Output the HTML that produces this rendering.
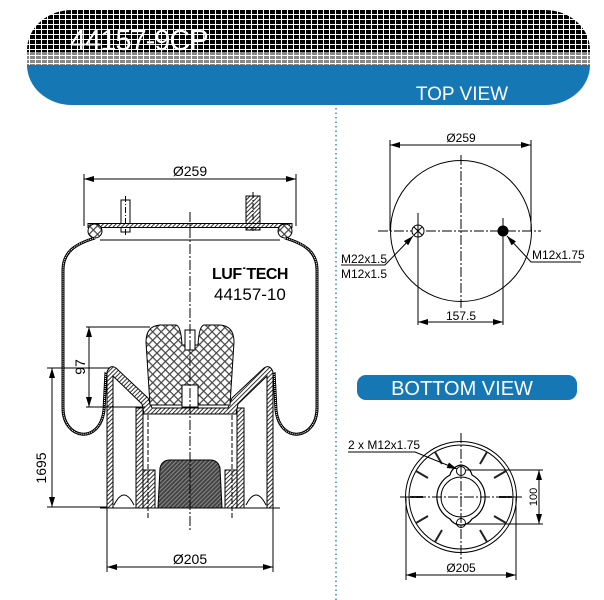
<!DOCTYPE html>
<html><head><meta charset="utf-8"><style>
html,body{margin:0;padding:0;background:#fff;width:604px;height:600px;overflow:hidden}
svg{display:block}
text{font-family:"Liberation Sans",sans-serif}
</style></head><body>
<svg width="604" height="600" viewBox="0 0 604 600" xmlns="http://www.w3.org/2000/svg">
<defs>
<pattern id="grid" width="6" height="5" patternUnits="userSpaceOnUse">
<rect width="6" height="5" fill="#000"/><rect x="5" width="1" height="5" fill="#fff"/><rect y="4" width="6" height="1" fill="#fff"/>
</pattern>
<pattern id="grid2" width="6" height="4" patternUnits="userSpaceOnUse">
<rect width="6" height="4" fill="#888"/><rect x="5" width="1" height="4" fill="#fff"/><rect y="3" width="6" height="1" fill="#fff"/>
</pattern>
<pattern id="hatch" width="3" height="3" patternUnits="userSpaceOnUse" patternTransform="rotate(45)">
<rect width="3" height="3" fill="#fff"/><rect width="1" height="3" fill="#333"/>
</pattern>
<pattern id="cross" width="6" height="6" patternUnits="userSpaceOnUse" patternTransform="rotate(45)">
<rect width="6" height="6" fill="#fff"/><rect width="1.2" height="6" fill="#444"/><rect width="6" height="1.2" fill="#444"/>
</pattern>
<pattern id="dark" width="3" height="3" patternUnits="userSpaceOnUse" patternTransform="rotate(45)">
<rect width="3" height="3" fill="#444"/><rect width="1" height="3" fill="#888"/>
</pattern>
<clipPath id="hdr"><rect x="27" y="10" width="563" height="95" rx="45" ry="40"/></clipPath>
<marker id="ar" viewBox="0 0 10 6" refX="10" refY="3" markerWidth="10" markerHeight="6" orient="auto-start-reverse" markerUnits="userSpaceOnUse"><path d="M0,0 L10,3 L0,6z" fill="#000"/></marker>
</defs>

<g clip-path="url(#hdr)">
<rect x="27" y="10" width="563" height="42" fill="url(#grid)"/>
<rect x="27" y="52" width="563" height="14" fill="url(#grid2)"/>
<rect x="27" y="65" width="563" height="40" fill="#1677b5"/>
</g>
<text x="70" y="50" font-size="29" fill="#fff" style="letter-spacing:-1px">44157-9CP</text>
<text x="462" y="100" font-size="19" fill="#fff" text-anchor="middle">TOP VIEW</text>

<line x1="336" y1="108" x2="336" y2="600" stroke="#3a86c0" stroke-width="1.5" stroke-dasharray="1.5,3"/>

<g stroke="#000" fill="none" stroke-width="1">
<line x1="84" y1="179" x2="296" y2="179" marker-start="url(#ar)" marker-end="url(#ar)"/>
<line x1="84" y1="174" x2="84" y2="226"/><line x1="296" y1="174" x2="296" y2="226"/>
<rect x="121" y="200" width="9" height="32" fill="#fff"/>
<line x1="125.5" y1="196" x2="125.5" y2="236" stroke-dasharray="6,2,1,2"/>
<rect x="246" y="196" width="14" height="34" fill="url(#hatch)"/>
<line x1="253" y1="192" x2="253" y2="232" stroke-dasharray="6,2,1,2"/>
<rect x="88" y="223.5" width="204" height="4" fill="url(#hatch)"/>
<circle cx="95" cy="231" r="7" fill="url(#cross)"/>
<circle cx="285" cy="231" r="7" fill="url(#cross)"/>
<line x1="100" y1="240" x2="280" y2="240"/>
<path d="M95,238 C75,244 63,252 63,270 L63,408 C63,440 100,445 104,410 L106,372" stroke-width="3"/>
<path d="M95,238 C75,244 63,252 63,270 L63,408 C63,440 100,445 104,410 L106,372" stroke="#fff" stroke-width="1" stroke-dasharray="1,1"/>
<path d="M285,238 C305,244 317,252 317,270 L317,408 C317,440 280,445 276,410 L274,372" stroke-width="3"/>
<path d="M285,238 C305,244 317,252 317,270 L317,408 C317,440 280,445 276,410 L274,372" stroke="#fff" stroke-width="1" stroke-dasharray="1,1"/>
<path d="M107,508 L107,372 Q110,364 116,368 L148,398 L152,408 L228,408 L232,398 L264,368 Q270,364 273,372 L273,508 L267,508 L267,376 L238,404 L236,414 L144,414 L142,404 L113,376 L113,508 Z" fill="url(#hatch)"/>
<rect x="136" y="408" width="7" height="100" fill="url(#hatch)"/>
<rect x="237" y="408" width="7" height="100" fill="url(#hatch)"/>
<rect x="143" y="470" width="12" height="38" fill="url(#hatch)"/>
<rect x="225" y="470" width="12" height="38" fill="url(#hatch)"/>
<line x1="148" y1="415" x2="148" y2="520" stroke-dasharray="5,2"/>
<line x1="232" y1="415" x2="232" y2="520" stroke-dasharray="5,2"/>
<path d="M150,405 L146,342 Q146,326 160,325 L176,325 Q181,326 182,345 L198,345 Q199,326 204,325 L220,325 Q234,326 234,342 L230,405 Z" fill="url(#cross)"/>
<rect x="185" y="330" width="10" height="20" fill="#fff"/>
<rect x="182" y="385" width="16" height="22" fill="#fff"/>
<path d="M158,508 L160,468 Q162,460 170,460 L210,460 Q218,460 220,468 L222,508 Z" fill="url(#dark)"/>
<path d="M114,505 Q124,485 134,505"/><path d="M246,505 Q256,485 266,505"/>
<line x1="100" y1="508" x2="280" y2="508"/>
<line x1="190" y1="212" x2="190" y2="530" stroke-dasharray="10,2,2,2"/>
<line x1="86" y1="327" x2="150" y2="327"/><line x1="86" y1="407" x2="145" y2="407"/>
<line x1="89" y1="327" x2="89" y2="407" marker-start="url(#ar)" marker-end="url(#ar)"/>
<line x1="47" y1="368" x2="110" y2="368"/><line x1="47" y1="507" x2="107" y2="507"/>
<line x1="52" y1="368" x2="52" y2="507" marker-start="url(#ar)" marker-end="url(#ar)"/>
<line x1="107" y1="508" x2="107" y2="572"/><line x1="273" y1="508" x2="273" y2="572"/>
<line x1="107" y1="567" x2="273" y2="567" marker-start="url(#ar)" marker-end="url(#ar)"/>
</g>
<text x="190" y="176" font-size="14" text-anchor="middle">Ø259</text>
<text x="190" y="564" font-size="14" text-anchor="middle">Ø205</text>
<text transform="translate(85,367) rotate(-90)" font-size="14" text-anchor="middle">97</text>
<text transform="translate(46,468) rotate(-90)" font-size="14" text-anchor="middle">1695</text>
<text x="212" y="279" font-size="16" font-weight="bold" style="letter-spacing:-0.5px">LUF˙TECH</text>
<text x="214" y="300" font-size="17">44157-10</text>

<g stroke="#000" fill="none" stroke-width="1">
<line x1="390" y1="145" x2="531" y2="145" marker-start="url(#ar)" marker-end="url(#ar)"/>
<line x1="390" y1="140" x2="390" y2="231"/><line x1="531" y1="140" x2="531" y2="231"/>
<circle cx="461" cy="231" r="70.5"/>
<line x1="378" y1="231" x2="541" y2="231" stroke-dasharray="10,2,2,2"/>
<line x1="461" y1="155" x2="461" y2="308" stroke-dasharray="10,2,2,2"/>
<circle cx="418" cy="231" r="6" fill="#fff"/>
<path d="M414,227 L422,235 M422,227 L414,235"/>
<circle cx="503" cy="231" r="5" fill="#000"/>
<line x1="418" y1="213" x2="418" y2="325"/><line x1="503" y1="218" x2="503" y2="325"/>
<line x1="418" y1="322" x2="503" y2="322" marker-start="url(#ar)" marker-end="url(#ar)"/>
<path d="M341,265 L385,265 L413,236" marker-end="url(#ar)"/>
<path d="M581,262 L531,262 L507,236" marker-end="url(#ar)"/>
</g>
<text x="461" y="142" font-size="12" text-anchor="middle">Ø259</text>
<text x="341" y="263" font-size="12">M22x1.5</text>
<text x="341" y="278" font-size="12">M12x1.5</text>
<text x="532" y="259" font-size="12">M12x1.75</text>
<text x="461" y="320" font-size="12" text-anchor="middle">157.5</text>

<rect x="357" y="375" width="220" height="25" rx="9" fill="#1677b5"/>
<text x="462" y="395" font-size="20" fill="#fff" text-anchor="middle">BOTTOM VIEW</text>

<g stroke="#000" fill="none" stroke-width="1">
<circle cx="461" cy="497" r="55.5"/>
<circle cx="461" cy="497" r="52"/>
<path d="M461,465 A13,13 0 0 1 472,475 A25,25 0 0 1 472,519 A13,13 0 0 1 450,519 A25,25 0 0 1 450,475 A13,13 0 0 1 461,465 Z" stroke-width="1.2"/>
<circle cx="461" cy="497" r="20"/>
<circle cx="461" cy="471" r="4.5"/><circle cx="461" cy="523" r="4.5"/>
<g stroke-width="2" stroke="#222">
<line x1="499" y1="497" x2="512" y2="497"/><line x1="423" y1="497" x2="410" y2="497"/>
<line x1="494" y1="478" x2="506" y2="471"/><line x1="494" y1="516" x2="506" y2="523"/>
<line x1="428" y1="478" x2="416" y2="471"/><line x1="428" y1="516" x2="416" y2="523"/>
<line x1="480" y1="464" x2="487" y2="452"/><line x1="480" y1="530" x2="487" y2="542"/>
<line x1="442" y1="464" x2="435" y2="452"/><line x1="442" y1="530" x2="435" y2="542"/>
</g>
<line x1="400" y1="497" x2="524" y2="497" stroke-dasharray="10,2,2,2"/>
<line x1="461" y1="433" x2="461" y2="560" stroke-dasharray="10,2,2,2"/>
<line x1="466" y1="470" x2="543" y2="470"/><line x1="466" y1="524" x2="543" y2="524"/>
<line x1="539" y1="470" x2="539" y2="524" marker-start="url(#ar)" marker-end="url(#ar)"/>
<line x1="406" y1="497" x2="406" y2="580"/><line x1="516" y1="497" x2="516" y2="580"/>
<line x1="406" y1="575" x2="516" y2="575" marker-start="url(#ar)" marker-end="url(#ar)"/>
<path d="M348,452 L415,452 L457,469" marker-end="url(#ar)"/>
</g>
<text x="348" y="449" font-size="12">2 x M12x1.75</text>
<text transform="translate(540,497) rotate(-90)" font-size="11" text-anchor="middle" dy="-3">100</text>
<text x="461" y="572" font-size="12" text-anchor="middle">Ø205</text>
</svg>
</body></html>
